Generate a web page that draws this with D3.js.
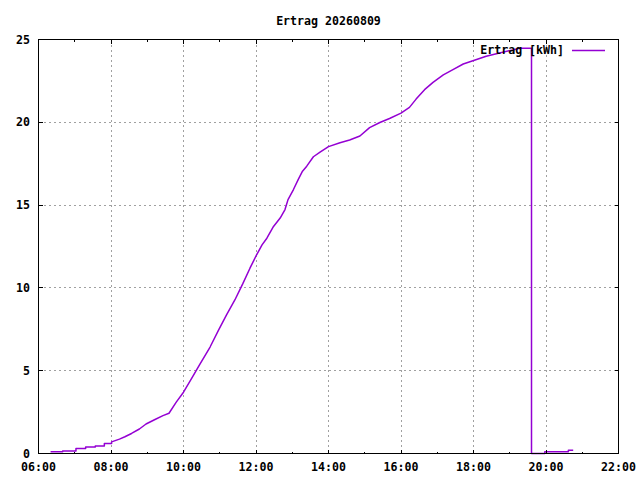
<!DOCTYPE html>
<html>
<head>
<meta charset="utf-8">
<script src="https://cdn.jsdelivr.net/npm/d3@7/dist/d3.min.js"></script>
<style>
    body { margin: 0; background: #fff; }
    svg { display: block; }
    text { font-family: "DejaVu Sans Mono", monospace; font-weight: bold; font-size: 11.6px; fill: #000; }
</style>
</head>
<body>
<svg id="chart" width="640" height="480"></svg>
<script>
// readings (time of day, kWh)
var times = [
    "06:20", "06:40", "06:40", "07:02", "07:02", "07:18", "07:18", "07:34", "07:34", "07:49", "07:49", "08:01", "08:01",
    "08:14", "08:23", "08:34", "08:47", "08:58", "09:12", "09:26", "09:36", "09:48", "10:00",
    "10:13", "10:26", "10:44", "10:58", "11:11", "11:25", "11:38", "11:50", "12:01", "12:10",
    "12:18", "12:29", "12:40", "12:48", "12:53", "13:02", "13:10", "13:17", "13:24", "13:35",
    "13:46", "14:00", "14:19", "14:35", "14:52", "15:08", "15:25", "15:41", "16:00", "16:14",
    "16:25", "16:39", "16:53", "17:10", "17:26", "17:43", "17:59", "18:21", "18:43", "19:05",
    "19:16", "19:36", "19:36", "19:58", "19:58", "20:37", "20:37", "20:45"
];
var values = [
    0.1, 0.1, 0.15, 0.15, 0.3, 0.3, 0.4, 0.4, 0.45, 0.45, 0.6, 0.6, 0.7,
    0.87, 1.01, 1.21, 1.48, 1.78, 2.04, 2.29, 2.43, 3.1, 3.7,
    4.5, 5.32, 6.43, 7.45, 8.36, 9.27, 10.24, 11.19, 12.0, 12.6,
    13.0, 13.71, 14.22, 14.73, 15.33, 15.94, 16.55, 17.05, 17.35, 17.92,
    18.2, 18.53, 18.77, 18.93, 19.17, 19.68, 19.99, 20.23, 20.55, 20.9,
    21.4, 21.97, 22.41, 22.86, 23.18, 23.52, 23.72, 23.99, 24.19, 24.37,
    24.47, 24.47, 0, 0, 0.1, 0.1, 0.2, 0.2
];
var yTicks = [0, 5, 10, 15, 20, 25];
var xDomain = ["06:00", "22:00"];
var title = "Ertrag 20260809";
var seriesName = "Ertrag [kWh]";

var parseTime = d3.timeParse("%H:%M");
var formatTime = d3.timeFormat("%H:%M");

var _left = 38.5, _right = 618.5, _top = 39.5, _bottom = 453.5;
var _lineColor = "#9400d3";
var _gridColor = "#a0a0a0";

var svg = d3.select("#chart");

var data = times.map(function(t, i) {
    return { t: parseTime(t), v: values[i] };
});

var x = d3.scaleTime()
    .domain(xDomain.map(parseTime))
    .range([_left, _right]);

var y = d3.scaleLinear()
    .domain([yTicks[0], yTicks[yTicks.length - 1]])
    .range([_bottom, _top]);

var majorX = x.ticks(d3.timeHour.every(2));
var minorX = x.ticks(d3.timeHour.every(1)).filter(function(d) { return d.getHours() % 2 === 1; });

// grid
var gGrid = svg.append("g")
    .attr("stroke", _gridColor)
    .attr("stroke-dasharray", "2,3")
    .attr("shape-rendering", "crispEdges");

gGrid.selectAll(".vgrid")
    .data(majorX.slice(1, -1))
    .enter().append("line")
        .attr("x1", function(d) { return x(d); })
        .attr("x2", function(d) { return x(d); })
        .attr("y1", _top)
        .attr("y2", _bottom);

gGrid.selectAll(".hgrid")
    .data(yTicks.slice(1, -1))
    .enter().append("line")
        .attr("x1", _left)
        .attr("x2", _right)
        .attr("y1", function(d) { return y(d); })
        .attr("y2", function(d) { return y(d); });

// the series
var line = d3.line()
    .x(function(d) { return x(d.t); })
    .y(function(d) { return y(d.v); });

svg.append("path")
    .datum(data)
    .attr("d", line)
    .attr("fill", "none")
    .attr("stroke", _lineColor)
    .attr("stroke-width", 1.5)
    .attr("stroke-linejoin", "round");

// frame and tics
var gFrame = svg.append("g")
    .attr("stroke", "#000")
    .attr("shape-rendering", "crispEdges");

gFrame.append("rect")
    .attr("x", _left)
    .attr("y", _top)
    .attr("width", _right - _left)
    .attr("height", _bottom - _top)
    .attr("fill", "none");

var xTics = majorX.map(function(d) { return { t: d, len: 4 }; })
    .concat(minorX.map(function(d) { return { t: d, len: 2 }; }));

xTics.forEach(function(d) {
    gFrame.append("line")
        .attr("x1", x(d.t)).attr("x2", x(d.t))
        .attr("y1", _bottom).attr("y2", _bottom - d.len);
    gFrame.append("line")
        .attr("x1", x(d.t)).attr("x2", x(d.t))
        .attr("y1", _top).attr("y2", _top + d.len);
});

yTicks.forEach(function(d) {
    gFrame.append("line")
        .attr("x1", _left).attr("x2", _left + 4)
        .attr("y1", y(d)).attr("y2", y(d));
    gFrame.append("line")
        .attr("x1", _right).attr("x2", _right - 4)
        .attr("y1", y(d)).attr("y2", y(d));
});

// labels
svg.selectAll(".xlabel")
    .data(majorX)
    .enter().append("text")
        .attr("x", function(d) { return x(d); })
        .attr("y", 471)
        .style("text-anchor", "middle")
        .text(function(d) { return formatTime(d); });

svg.selectAll(".ylabel")
    .data(yTicks)
    .enter().append("text")
        .attr("x", 30)
        .attr("y", function(d) { return y(d); })
        .attr("dy", ".35em")
        .style("text-anchor", "end")
        .text(function(d) { return d; });

svg.append("text")
    .attr("x", (_left + _right) / 2)
    .attr("y", 25)
    .style("text-anchor", "middle")
    .text(title);

// key
svg.append("text")
    .attr("x", 564)
    .attr("y", 54)
    .style("text-anchor", "end")
    .text(seriesName);

svg.append("line")
    .attr("x1", 572)
    .attr("x2", 605)
    .attr("y1", 50.5)
    .attr("y2", 50.5)
    .attr("stroke", _lineColor)
    .attr("stroke-width", 1.5);
</script>
</body>
</html>
